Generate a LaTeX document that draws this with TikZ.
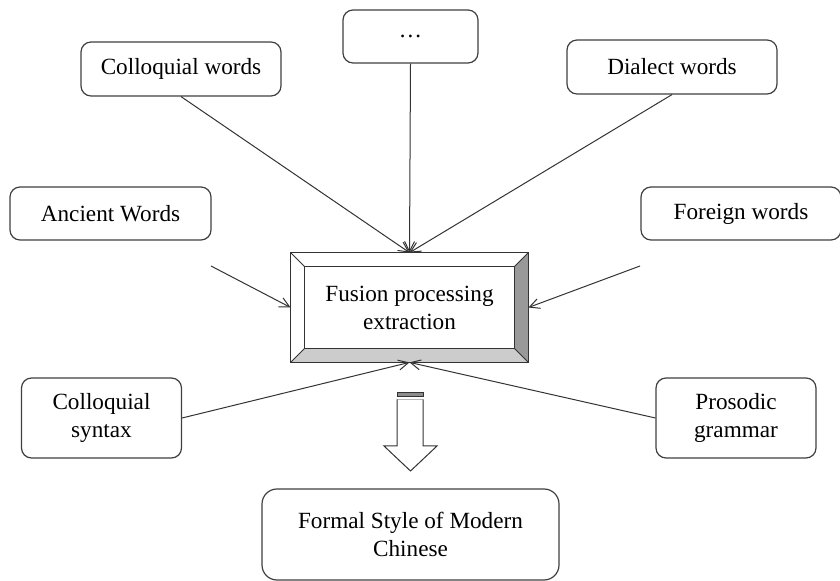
\documentclass[tikz,border=0pt]{standalone}
\usepackage{fontspec}
\setmainfont{Liberation Serif}
\usetikzlibrary{calc,arrows.meta}

\begin{document}
\begin{tikzpicture}[
				x=0.5pt, y=-0.5pt,
				every node/.style={font=\fontsize{11.6}{14}\selectfont, align=center, text=black},
				wordbox/.style={draw=black!75, line width=0.6pt, rounded corners=5pt, fill=white},
				feed/.style={draw=black!80, line width=0.5pt, -{Straight Barb[length=5pt,width=5pt]}},
				bevel/.style={draw=black!80, line width=0.5pt}
				]
				
				\useasboundingbox (0,0) rectangle (840,581);
				\clip (0,0) rectangle (840,581);
				
				% source boxes
				\node[wordbox, minimum width=100pt, minimum height=27pt] (coll) at (181,69) {Colloquial words};
				\node[wordbox, minimum width=67.5pt, minimum height=26.5pt] (dots) at (410.5,36.5) {\ldots};
				\node[wordbox, minimum width=105pt, minimum height=27pt] (dial) at (672,67) {Dialect words};
				\node[wordbox, minimum width=100.5pt, minimum height=26.5pt] (anc) at (110.5,213.5) {Ancient Words};
				\node[wordbox, minimum width=100pt, minimum height=26.5pt] (forg) at (741,213.5) {Foreign words};
				\node[wordbox, minimum width=80pt, minimum height=40pt] (csyn) at (101.5,418) {Colloquial\\syntax};
				\node[wordbox, minimum width=80pt, minimum height=40pt] (pros) at (736,418) {Prosodic\\grammar};
				
				% bevelled centre box
				\node[minimum width=118.5pt, minimum height=54.5pt, inner sep=0pt] (fusion) at (409.5,307.5) {};
				\coordinate (inw) at ($(fusion.north west)+(14,14)$);
				\coordinate (ine) at ($(fusion.north east)+(-14,14)$);
				\coordinate (isw) at ($(fusion.south west)+(14,-14)$);
				\coordinate (ise) at ($(fusion.south east)+(-14,-14)$);
				\fill[white] (fusion.north west) rectangle (fusion.south east);
				\fill[gray!80] (fusion.north east) -- (ine) -- (ise) -- (fusion.south east) -- cycle;
				\fill[gray!40] (fusion.south west) -- (isw) -- (ise) -- (fusion.south east) -- cycle;
				\draw[bevel] (fusion.north west) rectangle (fusion.south east);
				\draw[bevel] (inw) rectangle (ise);
				\draw[bevel] (fusion.north west) -- (inw) (fusion.north east) -- (ine)
					(fusion.south west) -- (isw) (fusion.south east) -- (ise);
				\node at (fusion.center) {Fusion processing\\extraction};
				
				% result
				\node[wordbox, rounded corners=7.5pt, minimum width=148.5pt, minimum height=45.5pt] (formal) at (410.5,534.5) {Formal Style of Modern\\Chinese};
				
				% hollow arrow
				\fill[gray!90] (397,393) rectangle (423,397);
				\draw[black!80, line width=0.5pt] (397,393) rectangle (423,397) (397,399.5) -- (423,399.5);
				\draw[black!80, line width=0.5pt, fill=white] (397,399.5) -- (397,446) -- (384,446) -- (410.5,471)
					-- (437,446) -- (423,446) -- (423,399.5);
				
				% connectors
				\coordinate (ancout) at (211,266);
				\coordinate (forgout) at (640,266);
				\draw[feed] (coll.south) -- (fusion.north);
				\draw[feed] (dots.south) -- (fusion.north);
				\draw[feed] (dial.south) -- (fusion.north);
				\draw[feed] (ancout) -- (fusion.west);
				\draw[feed] (forgout) -- (fusion.east);
				\draw[feed] (csyn.east) -- (fusion.south);
				\draw[feed] (pros.west) -- (fusion.south);
				
			\end{tikzpicture}
\end{document}
